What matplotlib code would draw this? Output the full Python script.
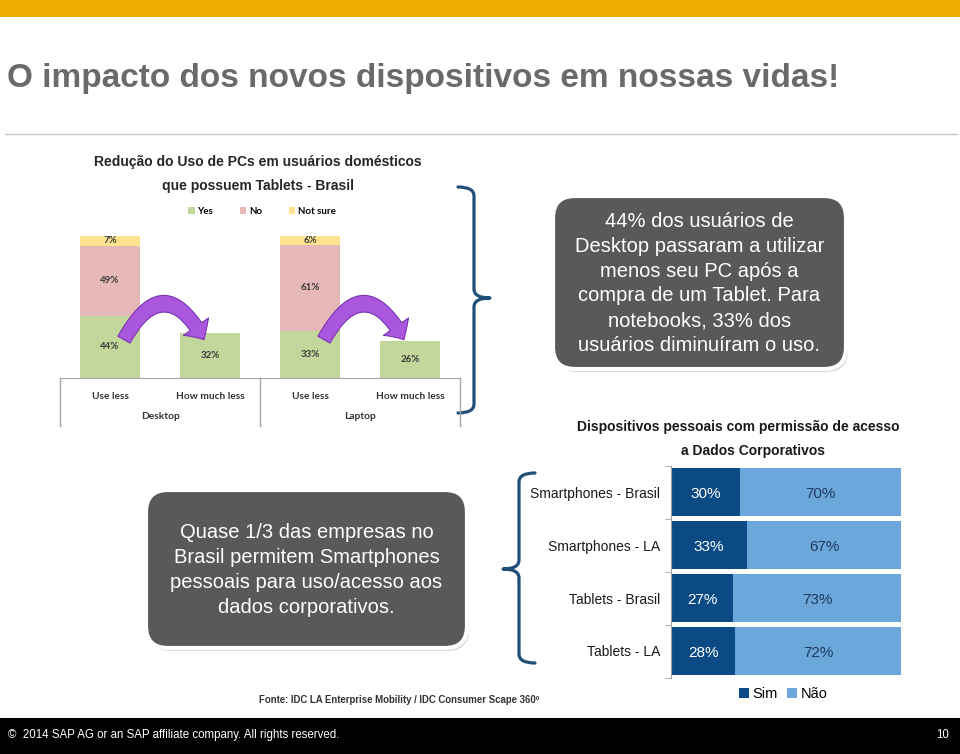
import matplotlib
matplotlib.use('Agg')
import matplotlib.pyplot as plt
from matplotlib.patches import FancyBboxPatch, Rectangle, FancyArrowPatch, PathPatch
from matplotlib.path import Path
from matplotlib.transforms import blended_transform_factory
import numpy as np

W, H, DPI = 960, 754, 100

# ---------------- data ----------------
pc_bars = ['Use less', 'How much less', 'Use less', 'How much less']
pc_groups = ['Desktop', 'Laptop']
pc_yes = [44, 32, 33, 26]
pc_no = [49, 0, 61, 0]
pc_notsure = [7, 0, 6, 0]
pc_series = ['Yes', 'No', 'Not sure']

dev_cats = ['Smartphones - Brasil', 'Smartphones - LA', 'Tablets - Brasil', 'Tablets - LA']
dev_sim = [30, 33, 27, 28]
dev_nao = [70, 67, 73, 72]
dev_series = ['Sim', 'Não']

# ---------------- styles ----------------
GREEN, PINK, YELLOW = '#C3D69B', '#E6B9B8', '#FFE38F'
SIM_C, NAO_C = '#0C4A86', '#6CA7DC'
BRACE_C = '#1F4E79'
BOX_C = '#595959'
ARIAL = ['Liberation Sans', 'DejaVu Sans']
CALIBRI = ['Lato', 'DejaVu Sans']

fig = plt.figure(figsize=(W / DPI, H / DPI), dpi=DPI)
fig.patch.set_facecolor('white')


def px_axes(x0, y0, x1, y1):
    return fig.add_axes([x0 / W, 1 - y1 / H, (x1 - x0) / W, (y1 - y0) / H])


ov = px_axes(0, 0, W, H)
ov.set_xlim(0, W)
ov.set_ylim(H, 0)
ov.axis('off')

# header
ov.add_patch(Rectangle((0, 0), W, 17, color='#F0AB00', lw=0))
ov.text(7, 79, 'O impacto dos novos dispositivos em nossas vidas!', fontsize=24,
        fontweight='bold', color='#6A6A6A', va='center', ha='left', family=ARIAL)
ov.plot([5, 957], [134, 134], color='#C8C8C8', lw=1)

# footer
ov.add_patch(Rectangle((0, 718), W, 36, color='black', lw=0))
ov.text(8, 735, '©  2014 SAP AG or an SAP affiliate company. All rights reserved.',
        fontsize=8.3, color='white', va='center', ha='left', family=ARIAL)
ov.text(949, 735, '10', fontsize=8.3, color='white', va='center', ha='right', family=ARIAL)
ov.text(259, 700, 'Fonte: IDC LA Enterprise Mobility / IDC Consumer Scape 360º',
        fontsize=6.9, fontweight='bold', color='#333333', va='center', ha='left',
        family=ARIAL)


# ---------------- boxes ----------------
def rbox(x0, y0, x1, y1, text):
    ov.add_patch(FancyBboxPatch((x0 + 2, y0 + 3), x1 - x0, y1 - y0,
                                boxstyle='round,pad=0,rounding_size=22',
                                fc='#C8C8C8', ec='none', alpha=0.7))
    ov.add_patch(FancyBboxPatch((x0, y0), x1 - x0, y1 - y0,
                                boxstyle='round,pad=0,rounding_size=22',
                                fc=BOX_C, ec='white', lw=3))
    ov.text((x0 + x1) / 2, (y0 + y1) / 2 + 1, text, color='white', fontsize=14.5,
            ha='center', va='center', family=ARIAL, linespacing=1.38)


rbox(553, 196, 846, 369, '44% dos usuários de\nDesktop passaram a utilizar\nmenos seu PC após a\n'
     'compra de um Tablet. Para\nnotebooks, 33% dos\nusuários diminuíram o uso.')
rbox(146, 490, 467, 648, 'Quase 1/3 das empresas no\nBrasil permitem Smartphones\n'
     'pessoais para uso/acesso aos\ndados corporativos.')


# ---------------- braces ----------------
def brace(xh, xv, xp, y0, y1, ym):
    r = 9
    verts = [(xh, y0), (xv, y0), (xv, y0 + r),
             (xv, ym - r), (xv, ym), (xp, ym),
             (xv, ym), (xv, ym + r),
             (xv, y1 - r), (xv, y1), (xh, y1)]
    codes = [Path.MOVETO, Path.CURVE3, Path.CURVE3,
             Path.LINETO, Path.CURVE3, Path.CURVE3,
             Path.CURVE3, Path.CURVE3,
             Path.LINETO, Path.CURVE3, Path.CURVE3]
    ov.add_patch(PathPatch(Path(verts, codes), fc='none', ec=BRACE_C, lw=2.3,
                           capstyle='round', joinstyle='round'))


brace(458, 474, 490, 187, 413, 298)
brace(535, 519, 503, 473, 663, 569)

# ---------------- left chart ----------------
ax1 = px_axes(60, 236, 460, 378)
x = np.arange(len(pc_bars))
yes = np.array(pc_yes)
no = np.array(pc_no)
ns = np.array(pc_notsure)
bw = 0.6
b_yes = ax1.bar(x, yes, bw, color=GREEN, label=pc_series[0])
b_no = ax1.bar(x, no, bw, bottom=yes, color=PINK, label=pc_series[1])
b_ns = ax1.bar(x, ns, bw, bottom=yes + no, color=YELLOW, label=pc_series[2])
for vals, bottoms in [(yes, np.zeros(4)), (no, yes), (ns, yes + no)]:
    for xi, v, b in zip(x, vals, bottoms):
        if v > 0:
            ax1.text(xi, b + v / 2, f'{v}%', ha='center', va='center', fontsize=7,
                     fontweight='bold', color='#3A3A3A', family=CALIBRI)
ax1.set_xlim(-0.5, 3.5)
ax1.set_ylim(0, 100)
ax1.patch.set_visible(False)
for s in ['top', 'left', 'right']:
    ax1.spines[s].set_visible(False)
ax1.spines['bottom'].set_color('#A6A6A6')
ax1.set_yticks([])
ax1.set_xticks(x)
ax1.set_xticklabels(pc_bars, fontsize=7.3, fontweight='bold', color='#333333', family=CALIBRI)
ax1.tick_params(axis='x', length=0, pad=10)
bt = blended_transform_factory(ax1.transData, ax1.transAxes)
for gi, g in enumerate(pc_groups):
    ax1.text(2 * gi + 0.5, -0.27, g, transform=bt, ha='center', va='center', fontsize=7.3,
             fontweight='bold', color='#333333', family=CALIBRI)
for xv in [-0.5, 1.5, 3.5]:
    ax1.plot([xv, xv], [0, -0.335], transform=bt, color='#A6A6A6', lw=1, clip_on=False)
ax1.legend(handles=[b_yes, b_no, b_ns], ncol=3, loc='center',
           bbox_to_anchor=(262 / W, 1 - 211 / H), bbox_transform=fig.transFigure,
           frameon=False, prop={'family': CALIBRI, 'weight': 'bold', 'size': 7},
           handlelength=0.7, handleheight=0.7, handletextpad=0.3, columnspacing=2.7)
ov.text(258, 162, 'Redução do Uso de PCs em usuários domésticos', fontsize=10,
        fontweight='bold', color='#262626', ha='center', va='center', family=ARIAL)
ov.text(258, 186, 'que possuem Tablets - Brasil', fontsize=10,
        fontweight='bold', color='#262626', ha='center', va='center', family=ARIAL)

# curved purple arrows from "Use less" to "How much less"
arrow_level = 27
for i in [0, 2]:
    arr = FancyArrowPatch((x[i] + 0.14, arrow_level), (x[i + 1] - 0.06, arrow_level),
                          connectionstyle='arc3,rad=-0.9',
                          arrowstyle='simple,head_length=1.1,head_width=2.2,tail_width=1.0',
                          mutation_scale=10, fc='#A957DC', ec='#7D33B3', lw=0.8, zorder=5,
                          shrinkA=0, shrinkB=0)
    ax1.add_patch(arr)

# ---------------- right chart ----------------
ax2 = px_axes(671, 465.5, 901, 677.5)
y = np.arange(len(dev_cats))
sim = np.array(dev_sim)
nao = np.array(dev_nao)
h_sim = ax2.barh(y, sim, 0.92, color=SIM_C, label=dev_series[0])
h_nao = ax2.barh(y, nao, 0.92, left=sim, color=NAO_C, label=dev_series[1])
for yi, s_, n_ in zip(y, sim, nao):
    ax2.text(s_ / 2, yi + 0.03, f'{s_}%', ha='center', va='center', fontsize=11,
             color='white', family=ARIAL)
    ax2.text(s_ + n_ / 2, yi + 0.03, f'{n_}%', ha='center', va='center', fontsize=11,
             color='#1F3B5C', family=ARIAL)
ax2.set_xlim(0, 100)
ax2.set_ylim(3.5, -0.5)
ax2.patch.set_visible(False)
for s in ['top', 'bottom', 'right']:
    ax2.spines[s].set_visible(False)
ax2.spines['left'].set_color('#A0A0A0')
ax2.set_xticks([])
ax2.set_yticks(y)
ax2.set_yticklabels(dev_cats, fontsize=10, color='#1A1A1A', family=ARIAL)
ax2.set_yticks(np.arange(-0.5, 4, 1), minor=True)
ax2.tick_params(axis='y', which='major', length=0, pad=8)
ax2.tick_params(axis='y', which='minor', length=4, color='#A0A0A0')
ax2.legend(handles=[h_sim, h_nao], ncol=2, loc='center',
           bbox_to_anchor=(783 / W, 1 - 694 / H), bbox_transform=fig.transFigure,
           frameon=False, prop={'family': ARIAL, 'size': 10.5},
           handlelength=0.7, handleheight=0.7, handletextpad=0.25, columnspacing=0.6)
ov.text(738, 427, 'Dispositivos pessoais com permissão de acesso', fontsize=10,
        fontweight='bold', color='#1A1A1A', ha='center', va='center', family=ARIAL)
ov.text(753, 451, 'a Dados Corporativos', fontsize=10,
        fontweight='bold', color='#1A1A1A', ha='center', va='center', family=ARIAL)

fig.savefig('out.png', dpi=DPI)
